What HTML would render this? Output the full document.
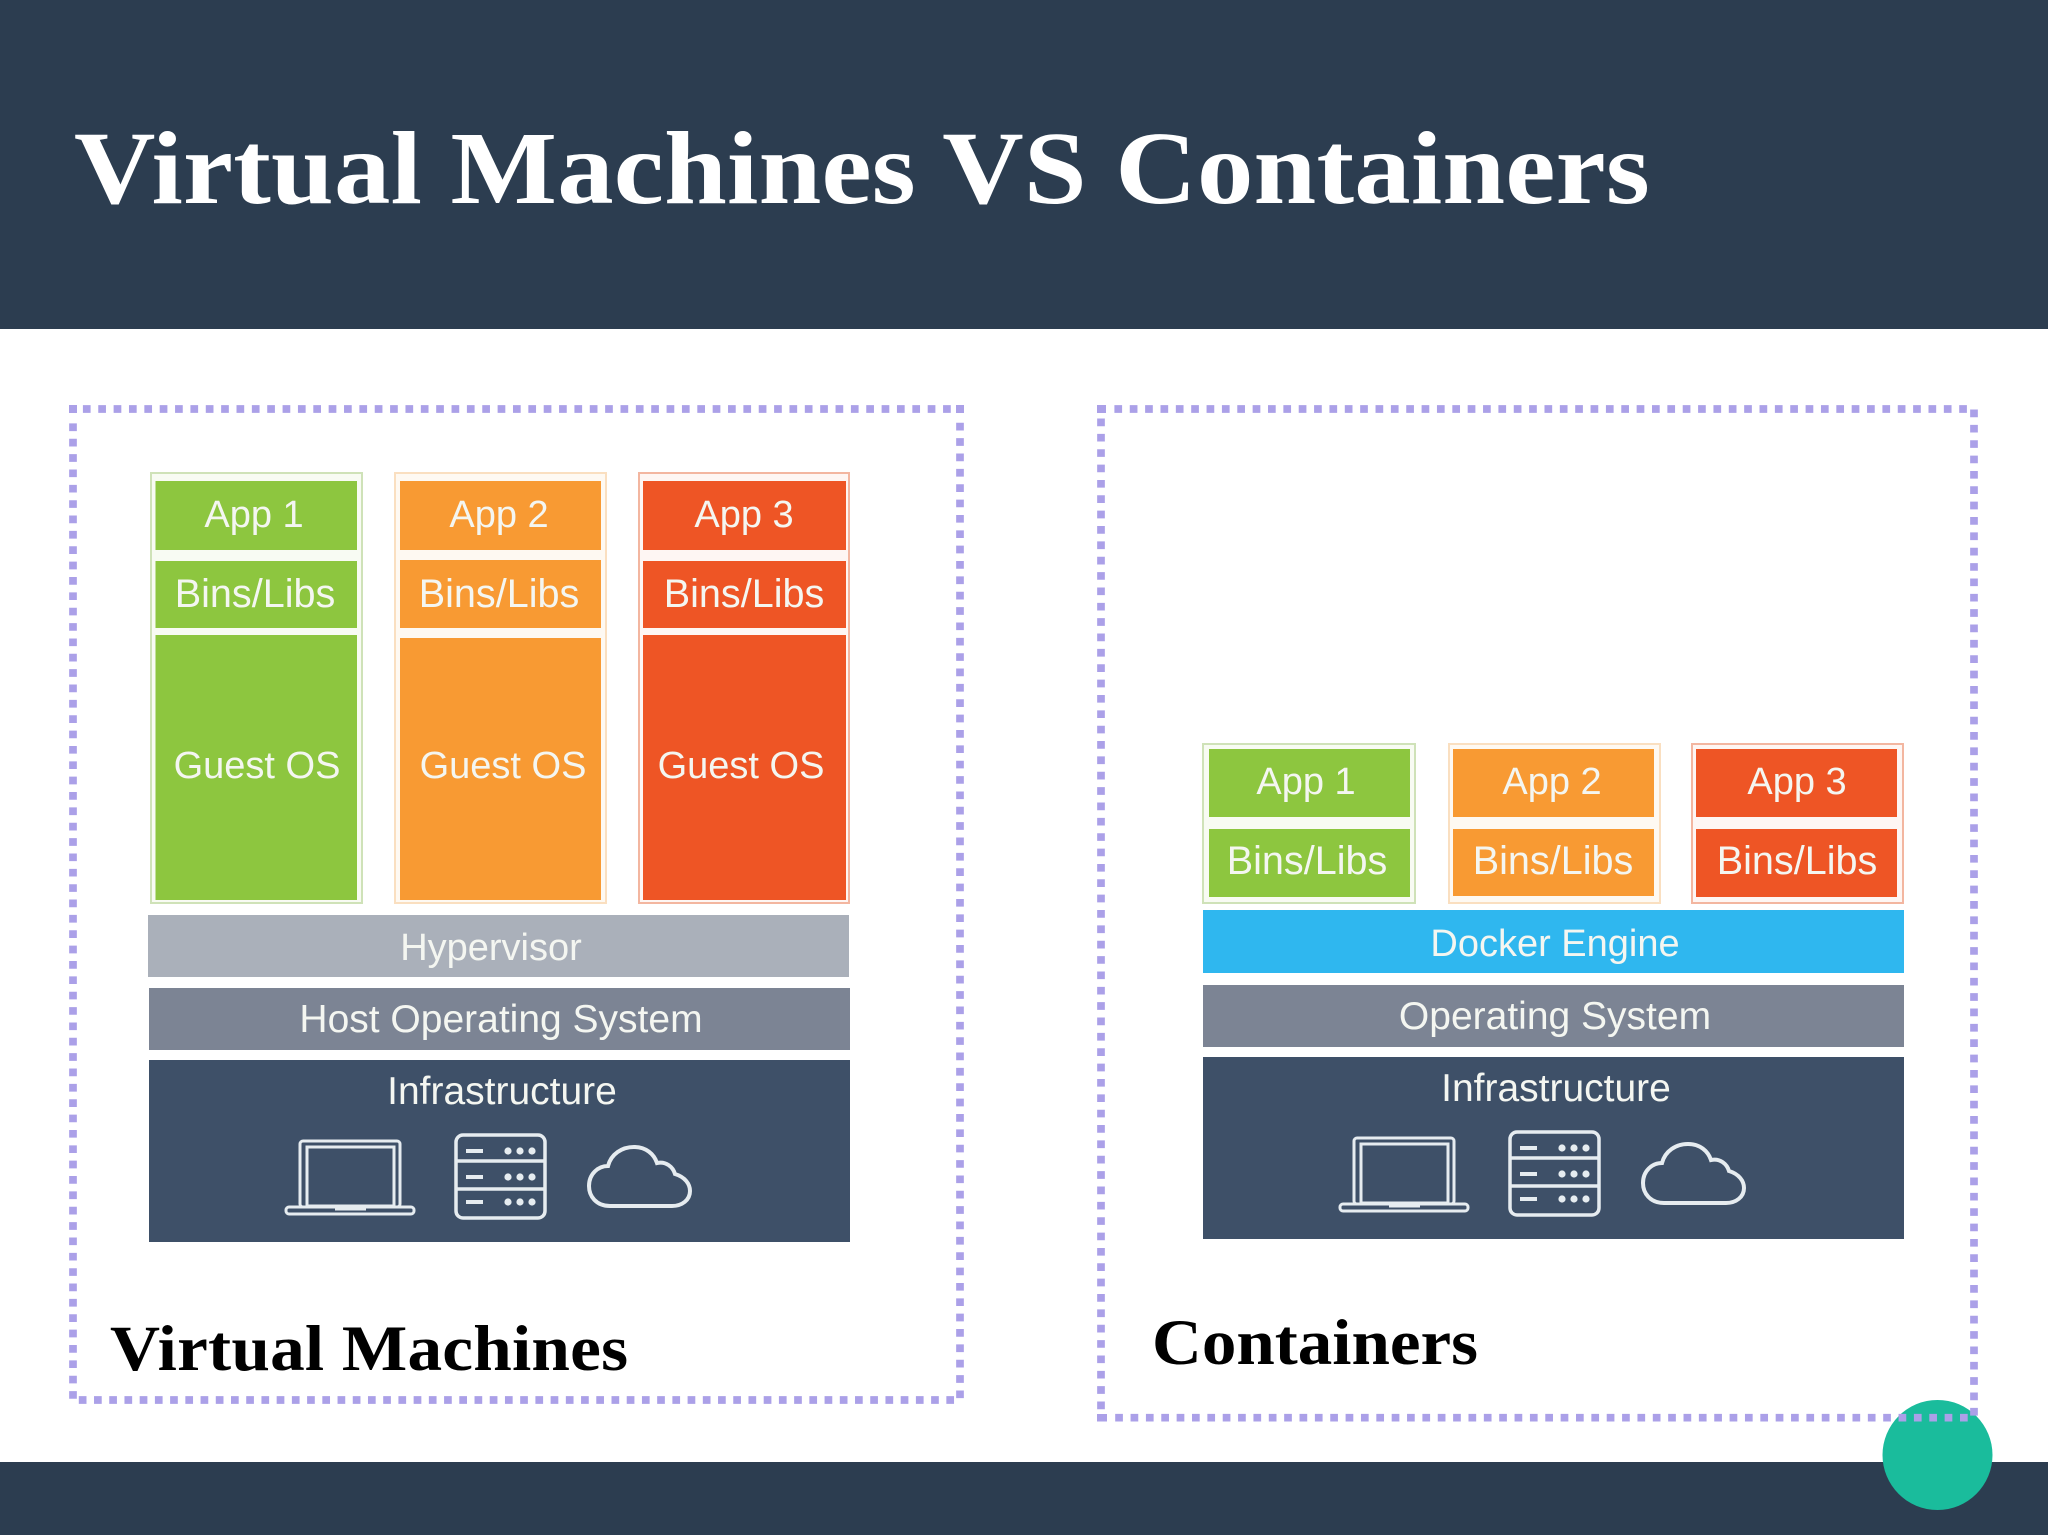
<!DOCTYPE html>
<html>
<head>
<meta charset="utf-8">
<style>
html,body{margin:0;padding:0;background:#fff;width:2048px;height:1535px;overflow:hidden}
svg{display:block}
.t{font-family:"Liberation Sans",Arial,sans-serif;font-size:38px;text-anchor:middle;fill:#f4f6f1}
.b{font-size:39.6px}
.m{font-size:39px}
.h{font-family:"Liberation Serif","Times New Roman",serif;font-weight:bold}
</style>
</head>
<body>
<svg width="2048" height="1535" viewBox="0 0 2048 1535" xmlns="http://www.w3.org/2000/svg">
<defs>
<g id="icons" fill="none" stroke="#e6ecf0" stroke-width="3">
<rect x="300" y="1141" width="100" height="66" rx="3"/>
<rect x="307" y="1147" width="87" height="59"/>
<rect x="286" y="1207" width="128" height="7" rx="3"/>
<rect x="335" y="1207" width="31" height="3.5" fill="#e6ecf0" stroke="none"/>
<rect x="456" y="1135" width="89" height="83" rx="7" stroke-width="3.5"/>
<path d="M456 1161H545M456 1189H545" stroke-width="3.5"/>
<path d="M466 1151H483M466 1177H483M466 1202H483" stroke-width="4"/>
<g fill="#e6ecf0" stroke="none">
<circle cx="508" cy="1151" r="3.6"/><circle cx="520" cy="1151" r="3.6"/><circle cx="532" cy="1151" r="3.6"/>
<circle cx="508" cy="1177" r="3.6"/><circle cx="520" cy="1177" r="3.6"/><circle cx="532" cy="1177" r="3.6"/>
<circle cx="508" cy="1202" r="3.6"/><circle cx="520" cy="1202" r="3.6"/><circle cx="532" cy="1202" r="3.6"/>
</g>
<path stroke-width="4" d="M610 1206C596 1206 589 1196 589 1186C589 1174 598 1166 608 1166C611 1154 622 1147 634 1147C646 1147 654 1154 657 1163C666 1161 673 1167 675 1174C685 1177 690 1184 690 1191C690 1200 682 1206 672 1206Z"/>
</g>
</defs>

<!-- header/footer -->
<rect width="2048" height="329" fill="#2c3d50"/>
<rect y="1462" width="2048" height="73" fill="#2c3d50"/>
<text class="h" transform="translate(74,203) scale(1.0845,1)" x="0" y="0" font-size="104" fill="#fff" textLength="1453" lengthAdjust="spacing">Virtual Machines VS Containers</text>

<!-- LEFT app columns -->
<rect x="151" y="473" width="211" height="430" fill="#f8fbf3" stroke="#cfe2b8" stroke-width="2"/>
<rect x="395" y="473" width="211" height="430" fill="#fef9f2" stroke="#fadfc0" stroke-width="2"/>
<rect x="639" y="473" width="210" height="430" fill="#fef6f3" stroke="#f3b6a0" stroke-width="2"/>

<g fill="#8dc63f">
<rect x="155.500" y="481" width="201.500" height="69"/>
<rect x="155.500" y="561" width="201.500" height="67"/>
<rect x="155.500" y="635" width="201.500" height="265"/>
</g>
<g fill="#f89a33">
<rect x="400" y="481" width="201" height="69"/>
<rect x="400" y="560" width="201" height="68"/>
<rect x="400" y="638" width="201" height="262"/>
</g>
<g fill="#ee5525">
<rect x="643" y="481" width="203" height="69"/>
<rect x="643" y="561" width="203" height="67"/>
<rect x="643" y="635" width="203" height="265"/>
</g>

<!-- LEFT bars -->
<rect x="148" y="915" width="701" height="62" fill="#aab0ba"/>
<rect x="149" y="988" width="701" height="62" fill="#7c8494"/>
<rect x="149" y="1060" width="701" height="182" fill="#3e5068"/>
<use href="#icons"/>

<text class="t" x="254" y="527">App 1</text>
<text class="t" x="499" y="527">App 2</text>
<text class="t" x="744" y="527">App 3</text>
<text class="t b" x="255" y="607">Bins/Libs</text>
<text class="t b" x="499" y="607">Bins/Libs</text>
<text class="t b" x="744" y="607">Bins/Libs</text>
<text class="t" x="257" y="778">Guest OS</text>
<text class="t" x="503" y="778">Guest OS</text>
<text class="t" x="741" y="778">Guest OS</text>
<text class="t" x="491" y="960" font-size="38.500">Hypervisor</text>
<text class="t m" x="501" y="1032">Host Operating System</text>
<text class="t m" x="502" y="1104">Infrastructure</text>

<!-- RIGHT app columns -->
<rect x="1203" y="744" width="212" height="159" fill="#f8fbf3" stroke="#cfe2b8" stroke-width="2"/>
<rect x="1449" y="744" width="211" height="159" fill="#fef9f2" stroke="#fadfc0" stroke-width="2"/>
<rect x="1692" y="744" width="211" height="159" fill="#fef6f3" stroke="#f3b6a0" stroke-width="2"/>
<g fill="#8dc63f">
<rect x="1209" y="749" width="201" height="68"/>
<rect x="1209" y="829" width="201" height="68"/>
</g>
<g fill="#f89a33">
<rect x="1453" y="749" width="201" height="68"/>
<rect x="1453" y="829" width="201" height="67"/>
</g>
<g fill="#ee5525">
<rect x="1696" y="749" width="201" height="68"/>
<rect x="1696" y="829" width="201" height="68"/>
</g>

<!-- RIGHT bars -->
<rect x="1203" y="910" width="701" height="63" fill="#2fb7ef"/>
<rect x="1203" y="985" width="701" height="62" fill="#7c8494"/>
<rect x="1203" y="1057" width="701" height="182" fill="#3e5068"/>
<use href="#icons" transform="translate(1054,-3)"/>

<text class="t" x="1306" y="794">App 1</text>
<text class="t" x="1552" y="794">App 2</text>
<text class="t" x="1797" y="794">App 3</text>
<text class="t b" x="1307" y="874">Bins/Libs</text>
<text class="t b" x="1553" y="874">Bins/Libs</text>
<text class="t b" x="1797" y="874">Bins/Libs</text>
<text class="t" x="1555" y="956">Docker Engine</text>
<text class="t m" x="1555" y="1029">Operating System</text>
<text class="t m" x="1556" y="1101">Infrastructure</text>

<!-- labels -->
<text class="h" transform="translate(110,1370) scale(1.066,1)" x="0" y="0" font-size="65" fill="#000" textLength="486" lengthAdjust="spacing">Virtual Machines</text>
<text class="h" transform="translate(1152,1364) scale(1.062,1)" x="0" y="0" font-size="65" fill="#000" textLength="307" lengthAdjust="spacing">Containers</text>

<!-- teal circle -->
<circle cx="1937.5" cy="1455" r="55" fill="#1abc9c"/>

<!-- dotted frames -->
<g fill="none" stroke="#aba0e8" stroke-width="7.700" stroke-dasharray="7.700 7.660">
<path d="M82.900 409H952"/>
<path d="M73 423.400V1399"/>
<path d="M960 422.800V1399"/>
<path d="M78.800 1400H955" stroke-dasharray="7.700 7.520"/>
<path d="M1114.400 409H1968"/>
<path d="M1101 418.500V1410"/>
<path d="M1974 409.500V1416"/>
<path d="M1115.200 1417.700H1970"/>
</g>
<g fill="#aba0e8">
<rect x="69" y="405" width="8" height="8"/>
<rect x="956" y="405" width="8" height="8"/>
<rect x="1097" y="405" width="9" height="8"/>
<rect x="1097" y="1414" width="10" height="7.500"/>
</g>
</svg>
</body>
</html>
